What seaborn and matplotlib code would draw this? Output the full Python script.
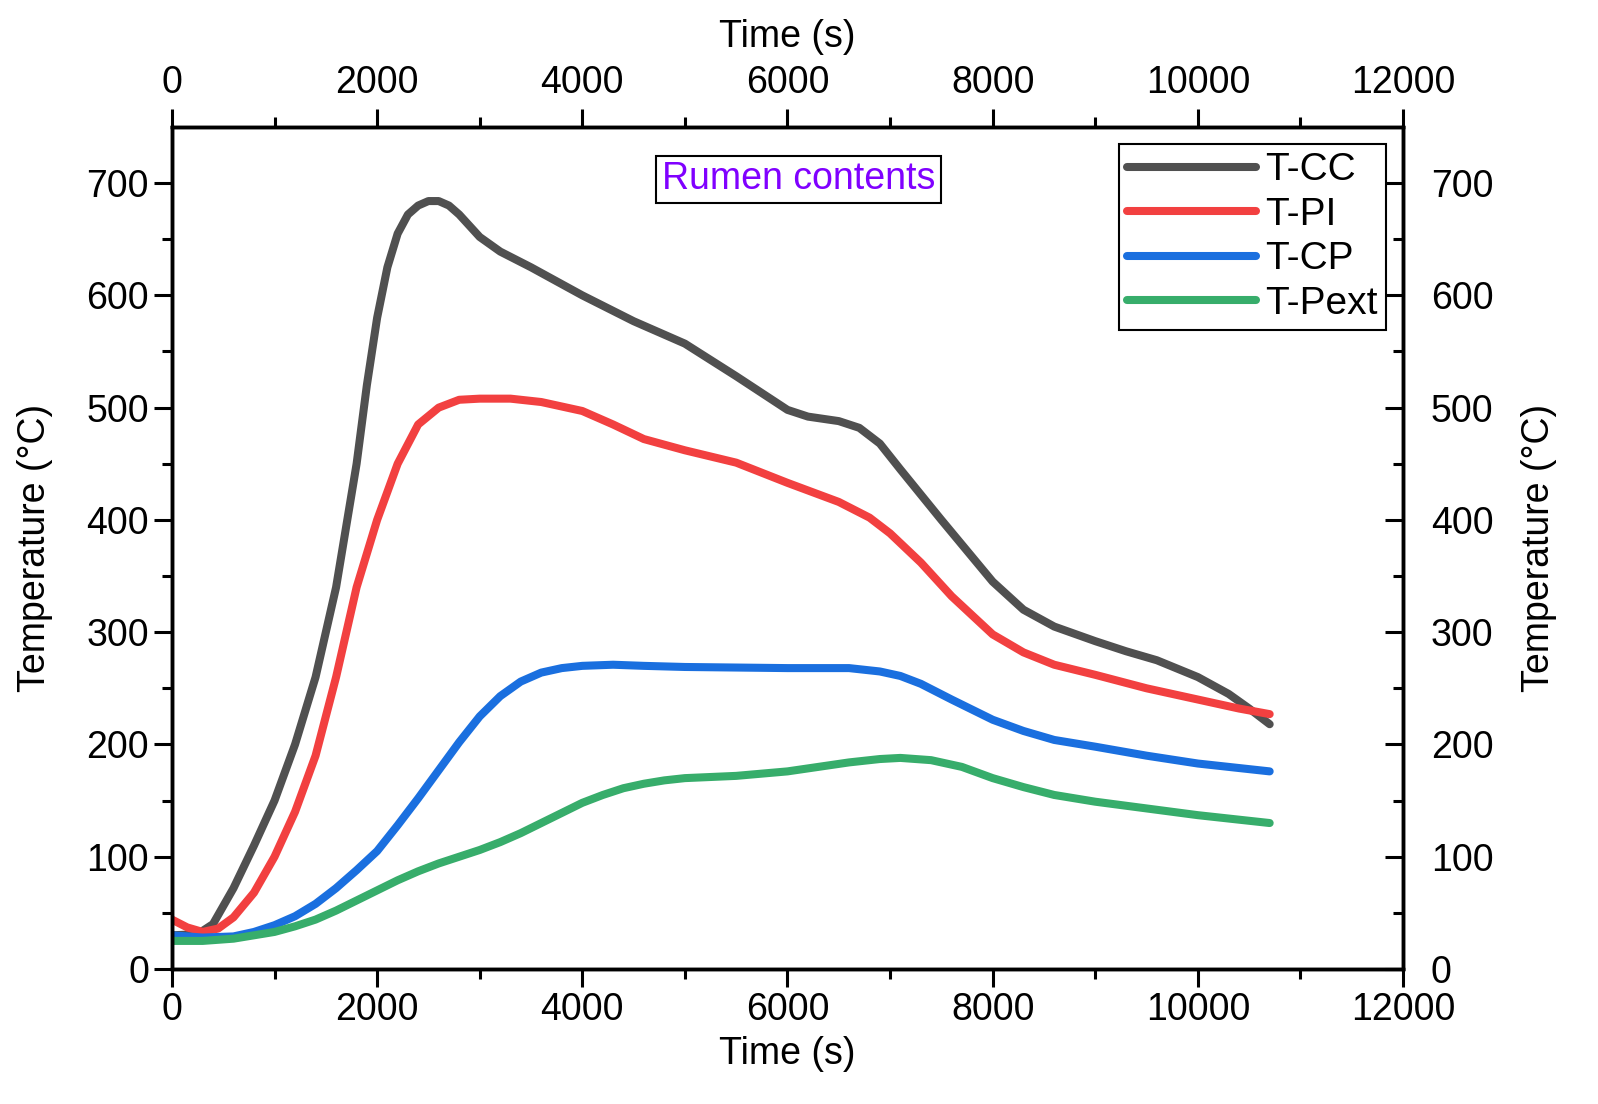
import numpy as np
import pandas as pd
import matplotlib
matplotlib.use("Agg")
import matplotlib.pyplot as plt
import seaborn as sns

# values (time in s, temperature in degC)
cc_time = [0, 250, 400, 600, 800, 1000, 1200, 1400, 1600, 1800, 1900, 2000, 2100,
           2200, 2300, 2400, 2500, 2600, 2700, 2800, 2900, 3000, 3200, 3500, 4000,
           4500, 5000, 5500, 6000, 6200, 6500, 6700, 6900, 7100, 7500, 8000, 8300,
           8600, 9000, 9300, 9600, 10000, 10300, 10500, 10700]
cc_temp = [30, 31, 40, 72, 110, 150, 200, 260, 340, 450, 520, 580, 625,
           655, 672, 680, 684, 684, 680, 672, 662, 652, 639, 625, 600,
           577, 557, 528, 498, 492, 488, 482, 468, 445, 400, 345, 320,
           305, 292, 283, 275, 260, 245, 232, 218]

pi_time = [0, 150, 300, 450, 600, 800, 1000, 1200, 1400, 1600, 1800, 2000, 2200,
           2400, 2600, 2800, 3000, 3300, 3600, 4000, 4300, 4600, 5000, 5500, 6000,
           6500, 6800, 7000, 7300, 7600, 8000, 8300, 8600, 9000, 9500, 10000,
           10400, 10700]
pi_temp = [44, 37, 33, 36, 46, 68, 100, 140, 190, 260, 340, 400, 450,
           485, 500, 507, 508, 508, 505, 497, 485, 472, 462, 451, 433,
           416, 402, 388, 362, 332, 298, 282, 271, 262, 250, 240,
           232, 227]

cp_time = [0, 300, 600, 800, 1000, 1200, 1400, 1600, 1800, 2000, 2200, 2400, 2600,
           2800, 3000, 3200, 3400, 3600, 3800, 4000, 4300, 4600, 5000, 6000, 6600,
           6900, 7100, 7300, 7600, 8000, 8300, 8600, 9000, 9500, 10000, 10400, 10700]
cp_temp = [30, 28, 29, 33, 39, 47, 58, 72, 88, 105, 128, 152, 177,
           202, 225, 243, 256, 264, 268, 270, 271, 270, 269, 268, 268,
           265, 261, 254, 240, 222, 212, 204, 198, 190, 183, 179, 176]

pext_time = [0, 300, 600, 800, 1000, 1200, 1400, 1600, 1800, 2000, 2200, 2400, 2600,
             2800, 3000, 3200, 3400, 3600, 3800, 4000, 4200, 4400, 4600, 4800, 5000,
             5500, 6000, 6300, 6600, 6900, 7100, 7400, 7700, 8000, 8300, 8600, 9000,
             9500, 10000, 10400, 10700]
pext_temp = [25, 25, 27, 30, 33, 38, 44, 52, 61, 70, 79, 87, 94,
             100, 106, 113, 121, 130, 139, 148, 155, 161, 165, 168, 170,
             172, 176, 180, 184, 187, 188, 186, 180, 170, 162, 155, 149,
             143, 137, 133, 130]

series_names = ["T-CC", "T-PI", "T-CP", "T-Pext"]
series_colors = ["#505050", "#f24040", "#1a6fdf", "#37ad6b"]

frames = []
for name, tt, vv in zip(series_names, [cc_time, pi_time, cp_time, pext_time],
                        [cc_temp, pi_temp, cp_temp, pext_temp]):
    frames.append(pd.DataFrame({"time": tt, "temp": vv, "series": name}))
long_df = pd.concat(frames, ignore_index=True)

sns.set_style("ticks")
plt.rcParams["font.family"] = ["Liberation Sans", "DejaVu Sans"]
plt.rcParams.update({"text.color": "black", "axes.labelcolor": "black",
                     "xtick.color": "black", "ytick.color": "black",
                     "axes.edgecolor": "black"})

fig = plt.figure(figsize=(15.98, 11.04), dpi=100)
ax = fig.add_axes([0.1076, 0.1223, 0.7704, 0.7627])

sns.lineplot(data=long_df, x="time", y="temp", hue="series",
             hue_order=series_names, palette=series_colors, sort=True,
             linewidth=5.8, ax=ax, solid_capstyle="round", solid_joinstyle="round")

FS = 27
ax.set_xlim(0, 12000)
ax.set_ylim(0, 750)
ax.set_xticks(np.arange(0, 12001, 2000))
ax.set_xticks(np.arange(1000, 12000, 2000), minor=True)
ax.set_yticks(np.arange(0, 701, 100))
ax.set_yticks(np.arange(50, 750, 100), minor=True)
ax.set_xlabel("Time (s)", fontsize=FS, labelpad=6)
ax.set_ylabel("Temperature (°C)", fontsize=FS)
ax.yaxis.set_label_coords(-0.097, 0.5)

tick_kw = dict(labelsize=FS, width=2.2, color="black", labelcolor="black")
ax.tick_params(axis="both", which="major", length=13, direction="out", **tick_kw)
ax.tick_params(axis="both", which="minor", length=7, direction="out", width=2.2)

for sp in ax.spines.values():
    sp.set_linewidth(2.4)

# top axis
axt = ax.twiny()
axt.set_xlim(ax.get_xlim())
axt.set_xticks(np.arange(0, 12001, 2000))
axt.set_xticks(np.arange(1000, 12000, 2000), minor=True)
axt.set_xlabel("Time (s)", fontsize=FS, labelpad=13)
axt.tick_params(axis="x", which="major", length=13, direction="out", pad=6, **tick_kw)
axt.tick_params(axis="x", which="minor", length=7, direction="out", width=2.2)

# right axis
axr = ax.twinx()
axr.set_ylim(ax.get_ylim())
axr.set_yticks(np.arange(0, 701, 100))
axr.set_yticks(np.arange(50, 750, 100), minor=True)
axr.set_ylabel("Temperature (°C)", fontsize=FS, rotation=90)
axr.yaxis.set_label_coords(1.096, 0.5)
axr.tick_params(axis="y", which="major", length=13, direction="in", pad=20, **tick_kw)
axr.tick_params(axis="y", which="minor", length=7, direction="in", width=2.2)

for a in (axt, axr):
    for sp in a.spines.values():
        sp.set_linewidth(2.4)

leg = ax.legend(loc="upper right", fontsize=28, frameon=True, fancybox=False,
                edgecolor="black", handlelength=3.3, handletextpad=0.25,
                borderpad=0.2, labelspacing=0.22, borderaxespad=0.45,
                framealpha=1)
leg.get_frame().set_linewidth(1.5)
for line in leg.get_lines():
    line.set_linewidth(5.8)

ax.text(0.509, 0.938, "Rumen contents", transform=ax.transAxes,
        fontsize=27, color="#8000ff", ha="center", va="center",
        bbox=dict(boxstyle="square,pad=0.15", facecolor="white",
                  edgecolor="black", linewidth=1.5))

fig.savefig("out.png", dpi=100)
